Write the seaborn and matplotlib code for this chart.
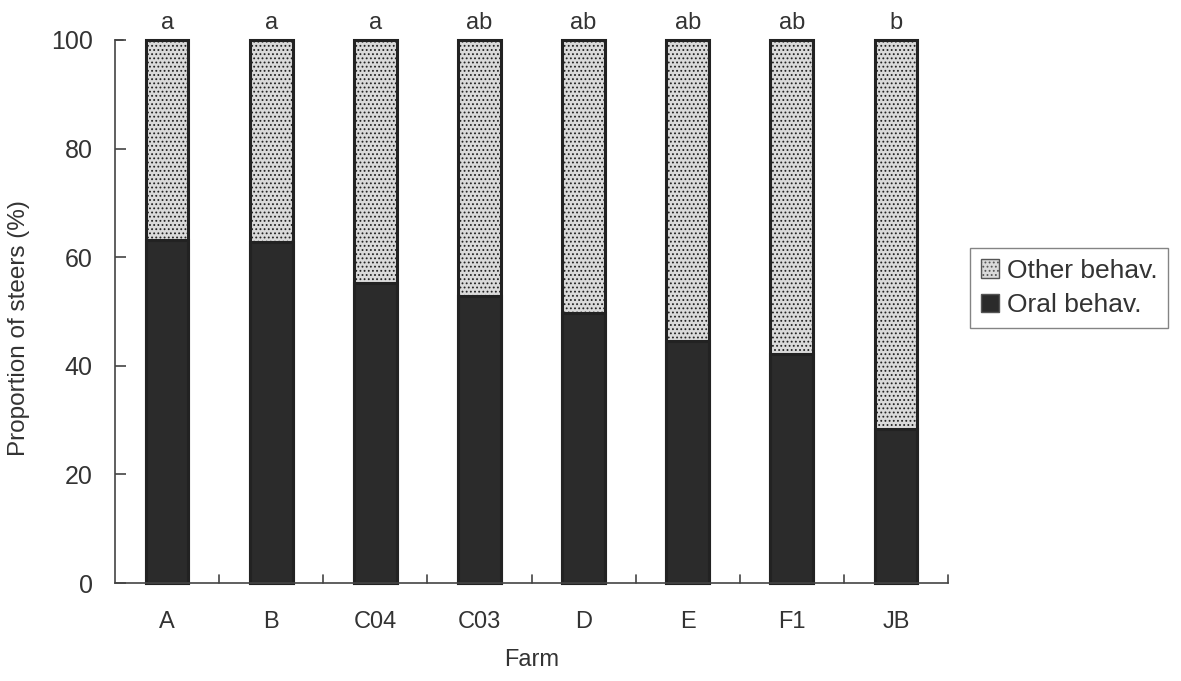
import matplotlib
matplotlib.use("Agg")
import matplotlib.pyplot as plt
import seaborn as sns
import pandas as pd
from matplotlib.patches import Patch

farms = ["A", "B", "C04", "C03", "D", "E", "F1", "JB"]
oral = [63.2, 62.8, 55.2, 52.9, 49.7, 44.6, 42.2, 28.4]
total = [100, 100, 100, 100, 100, 100, 100, 100]
other = [t - o for t, o in zip(total, oral)]
letters = ["a", "a", "a", "ab", "ab", "ab", "ab", "b"]

sns.set_theme(style="white")
plt.rcParams['font.family'] = ['Liberation Sans', 'DejaVu Sans']
plt.rcParams['hatch.color'] = '#8a8a8a'
plt.rcParams['hatch.linewidth'] = 0.8

df = pd.DataFrame({"Farm": farms, "Oral": oral, "Total": total, "Other": other})

fig = plt.figure(figsize=(11.81, 6.81), dpi=100)
ax = fig.add_axes([0.0974, 0.1439, 0.7053, 0.7974])

txt = "#333333"
dark = "#2b2b2b"
light = "#dadada"
sns.barplot(data=df, x="Farm", y="Total", color=light, width=0.41,
            edgecolor="#222222", linewidth=2.2, ax=ax, saturation=1)
n_other = len(ax.patches)
for p in ax.patches[:n_other]:
    p.set_hatch("....")
    p.set_clip_on(False)
sns.barplot(data=df, x="Farm", y="Oral", color=dark, width=0.41,
            edgecolor="#222222", linewidth=2.2, ax=ax, saturation=1)
for p in ax.patches:
    p.set_clip_on(False)

ax.set_xlim(-0.5, 7.5)
ax.set_ylim(0, 100)
ax.set_yticks([0, 20, 40, 60, 80, 100])
ax.tick_params(axis="y", direction="in", length=8, width=1.2, colors="#444444",
               labelcolor=txt, labelsize=18, pad=16, left=True)
ax.set_xticks(range(len(farms)))
ax.set_xticklabels(farms)
ax.tick_params(axis="x", length=0, labelsize=17, pad=20, labelcolor=txt)
for xb in [i + 0.5 for i in range(len(farms))]:
    ax.plot([xb, xb], [0, 1.4], color="#444444", lw=1.2, clip_on=False)
ax.plot([-0.5, -0.42], [100, 100], color="#444444", lw=1.2, clip_on=False)

for s in ["top", "right"]:
    ax.spines[s].set_visible(False)
for s in ["left", "bottom"]:
    ax.spines[s].set_color("#444444")
    ax.spines[s].set_linewidth(1.2)

ax.set_xlabel("Farm", fontsize=17, labelpad=12, color=txt)
ax.set_ylabel("Proportion of steers (%)", fontsize=17.5, color=txt)
ax.yaxis.set_label_coords(-0.102, 0.47)

for i, (t, l) in enumerate(zip(total, letters)):
    ax.text(i, t + 2.0, l, ha="center", va="baseline", fontsize=17, color=txt)

handles = [Patch(facecolor=light, edgecolor="#555555", hatch="....", label="Other behav."),
           Patch(facecolor=dark, edgecolor="#555555", label="Oral behav.")]
leg = fig.legend(handles=handles, loc="upper left", bbox_to_anchor=(0.8213, 0.6358),
                 fontsize=19, frameon=True, fancybox=False, edgecolor="#666666",
                 handlelength=0.7, handleheight=0.7, handletextpad=0.3,
                 borderpad=0.4, labelspacing=0.4, borderaxespad=0)
for t in leg.get_texts():
    t.set_color(txt)
leg.get_frame().set_linewidth(1.0)

fig.savefig("out.png", dpi=100, facecolor="white")
